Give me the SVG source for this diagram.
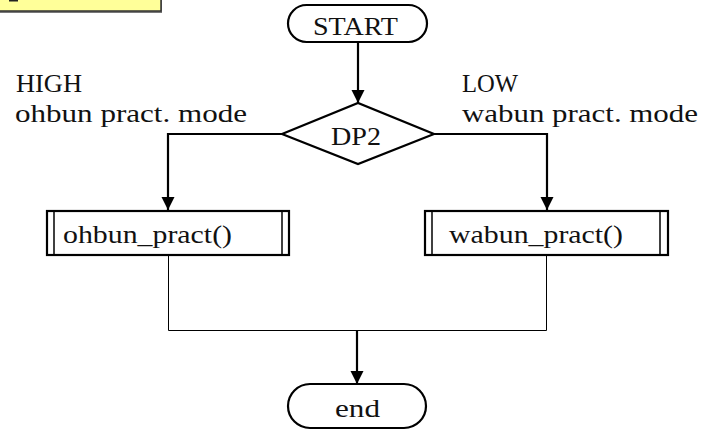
<svg xmlns="http://www.w3.org/2000/svg" width="703" height="431" viewBox="0 0 703 431">
<defs>
<marker id="arr" markerUnits="userSpaceOnUse" markerWidth="14" markerHeight="14" refX="13" refY="6.5" orient="auto">
<path d="M0,0 L13,6.5 L0,13 Z" fill="#000"/>
</marker>
</defs>
<style>
text{font-family:"Liberation Serif","DejaVu Serif",serif;font-size:26px;fill:#111}
.shape{fill:#fff;stroke:#000;stroke-width:2.2}
.thick{fill:none;stroke:#000;stroke-width:2.2}
.thin{fill:none;stroke:#000;stroke-width:1}
.inner{fill:none;stroke:#000;stroke-width:1.5}
</style>
<rect width="703" height="431" fill="#fff"/>
<g id="note">
<rect x="-3" y="-10" width="165" height="23" fill="#777"/>
<rect x="-4" y="-12" width="165" height="23" fill="#ffff99" stroke="#333" stroke-width="1.5"/>
<rect x="9" y="0" width="9" height="1.5" fill="#222"/>
</g>
<g id="connectors">
<line class="thick" x1="358" y1="42" x2="358" y2="103" marker-end="url(#arr)"/>
<polyline class="thick" points="282,134 168,134 168,210" marker-end="url(#arr)"/>
<polyline class="thick" points="434,134 547,134 547,210" marker-end="url(#arr)"/>
<polyline class="thin" points="168.5,256 168.5,330.5 546.5,330.5 546.5,256"/>
<line class="thick" x1="357" y1="330" x2="357" y2="384" marker-end="url(#arr)"/>
</g>
<g id="start">
<rect class="shape" x="288" y="5" width="139" height="37" rx="18.5"/>
<text x="313" y="35" textLength="85" lengthAdjust="spacingAndGlyphs">START</text>
</g>
<g id="dp2">
<polygon class="shape" points="282,134 358,103 434,134 358,164"/>
<text x="331" y="145" textLength="50" lengthAdjust="spacingAndGlyphs">DP2</text>
</g>
<g id="label-high">
<text x="16" y="92" textLength="66" lengthAdjust="spacingAndGlyphs">HIGH</text>
<text x="15" y="122" textLength="232" lengthAdjust="spacingAndGlyphs">ohbun pract. mode</text>
</g>
<g id="label-low">
<text x="462" y="92" textLength="56" lengthAdjust="spacingAndGlyphs">LOW</text>
<text x="462" y="122" textLength="236" lengthAdjust="spacingAndGlyphs">wabun pract. mode</text>
</g>
<g id="ohbun">
<rect class="shape" x="47" y="211" width="242" height="44"/>
<line class="inner" x1="54" y1="211" x2="54" y2="255"/>
<line class="inner" x1="282" y1="211" x2="282" y2="255"/>
<text x="63" y="243" textLength="169" lengthAdjust="spacingAndGlyphs">ohbun_pract()</text>
</g>
<g id="wabun">
<rect class="shape" x="425" y="211" width="243" height="44"/>
<line class="inner" x1="432" y1="211" x2="432" y2="255"/>
<line class="inner" x1="660" y1="211" x2="660" y2="255"/>
<text x="449" y="243" textLength="174" lengthAdjust="spacingAndGlyphs">wabun_pract()</text>
</g>
<g id="end">
<rect class="shape" x="288" y="384" width="138" height="44" rx="22"/>
<text x="335" y="417" textLength="45" lengthAdjust="spacingAndGlyphs">end</text>
</g>
</svg>
